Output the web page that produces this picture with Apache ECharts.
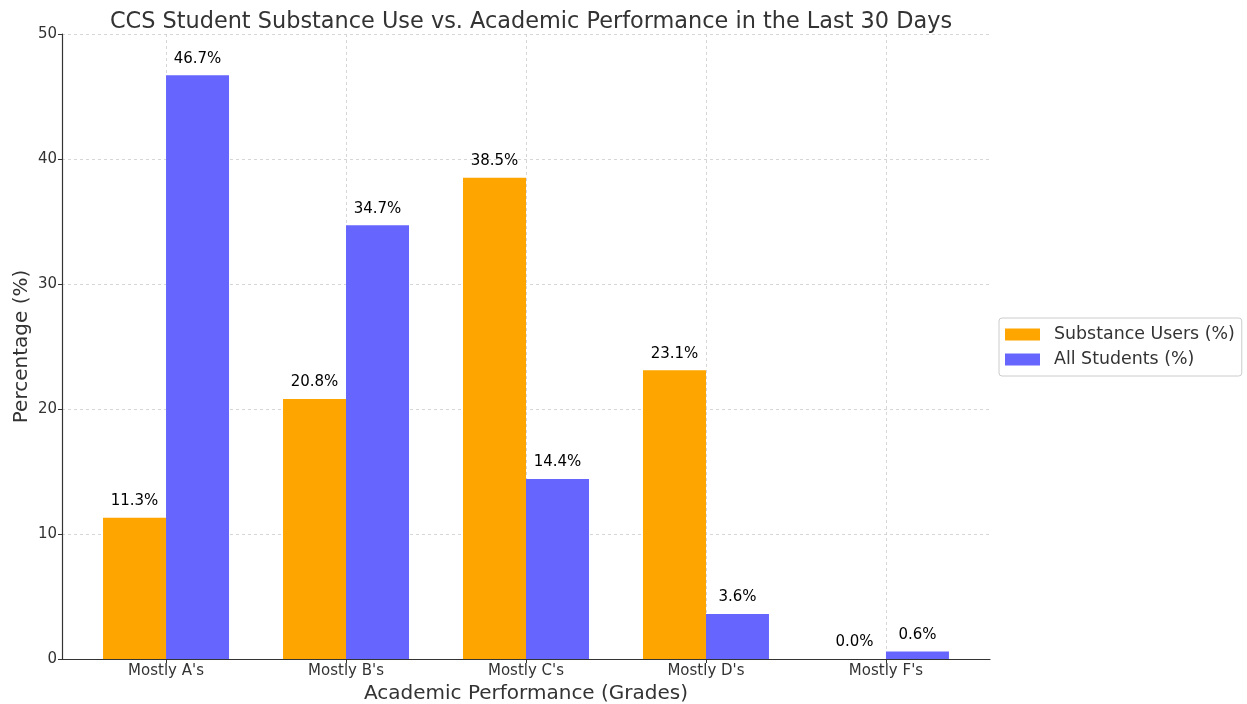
<!DOCTYPE html>
<html><head><meta charset="utf-8">
<script src="https://cdn.jsdelivr.net/npm/echarts@6/dist/echarts.min.js"></script>
<style>html,body{margin:0;padding:0;background:#fff}#c{width:1247px;height:704px}</style>
</head><body><div id="c"></div>
<script>
const categories = ["Mostly A's", "Mostly B's", "Mostly C's", "Mostly D's", "Mostly F's"];
const substanceUsers = [11.3, 20.8, 38.5, 23.1, 0.0];
const allStudents = [46.7, 34.7, 14.4, 3.6, 0.6];
const yTicks = [0, 10, 20, 30, 40, 50];

const FONT = 'DejaVu Sans';
const half = 0.175;
const catIdx = categories.map((_, i) => i);

function lbl() {
  return { show: true, position: 'top', distance: 9, color: '#000', fontFamily: FONT, fontSize: 15,
    formatter: p => p.value[1].toFixed(1) + '%' };
}

const chart = echarts.init(document.getElementById('c'), null, { renderer: 'canvas' });
chart.setOption({
  animation: false,
  backgroundColor: '#fff',
  title: { text: 'CCS Student Substance Use vs. Academic Performance in the Last 30 Days',
    left: 526, top: 6, textAlign: 'center',
    textStyle: { fontFamily: FONT, fontSize: 22.4, fontWeight: 'normal', color: '#333' } },
  legend: {
    orient: 'vertical', left: 999, top: 318, padding: [8, 7, 8, 6],
    borderColor: '#ccc', borderWidth: 1, borderRadius: 3,
    itemWidth: 35, itemHeight: 12, itemGap: 8, icon: 'rect',
    textStyle: { fontFamily: FONT, fontSize: 17.4, color: '#333', padding: [0, 0, 0, 9] },
    data: ['Substance Users (%)', 'All Students (%)']
  },
  grid: { left: 62, right: 257, top: 34, bottom: 45, containLabel: false, outerBoundsMode: 'none' },
  xAxis: {
    type: 'value', min: -0.578, max: 4.578,
    name: 'Academic Performance (Grades)', nameLocation: 'middle', nameGap: 25, nameMoveOverlap: false,
    nameTextStyle: { fontFamily: FONT, fontSize: 20, color: '#333' },
    axisLine: { show: true, onZero: false, lineStyle: { color: '#333', width: 1.2 } },
    axisTick: { show: true, customValues: catIdx, length: 4, lineStyle: { color: '#333' } },
    axisLabel: { customValues: catIdx, fontFamily: FONT, fontSize: 15, color: '#333', margin: 5,
      formatter: v => categories[Math.round(v)] },
    splitLine: { show: true, lineStyle: { color: '#ccc', type: [3, 3], width: 0.8 } }
  },
  yAxis: {
    type: 'value', min: yTicks[0], max: yTicks[yTicks.length - 1], interval: 10,
    name: 'Percentage (%)', nameLocation: 'middle', nameGap: 30, nameRotate: 90, nameMoveOverlap: false,
    nameTextStyle: { fontFamily: FONT, fontSize: 20, color: '#333' },
    axisLine: { show: true, onZero: false, lineStyle: { color: '#333', width: 1.2 } },
    axisTick: { show: true, length: 4, lineStyle: { color: '#333' } },
    axisLabel: { fontFamily: FONT, fontSize: 15, color: '#333', margin: 5 },
    splitLine: { show: true, lineStyle: { color: '#ccc', type: [3, 3], width: 0.8 } }
  },
  series: [
    { name: 'Substance Users (%)', type: 'bar', barWidth: 63, barGap: '-100%',
      itemStyle: { color: '#FFA500' },
      data: substanceUsers.map((v, i) => [i - half, v]), label: lbl() },
    { name: 'All Students (%)', type: 'bar', barWidth: 63, barGap: '-100%',
      itemStyle: { color: '#6666FF' },
      data: allStudents.map((v, i) => [i + half, v]), label: lbl() }
  ]
});
</script></body></html>
